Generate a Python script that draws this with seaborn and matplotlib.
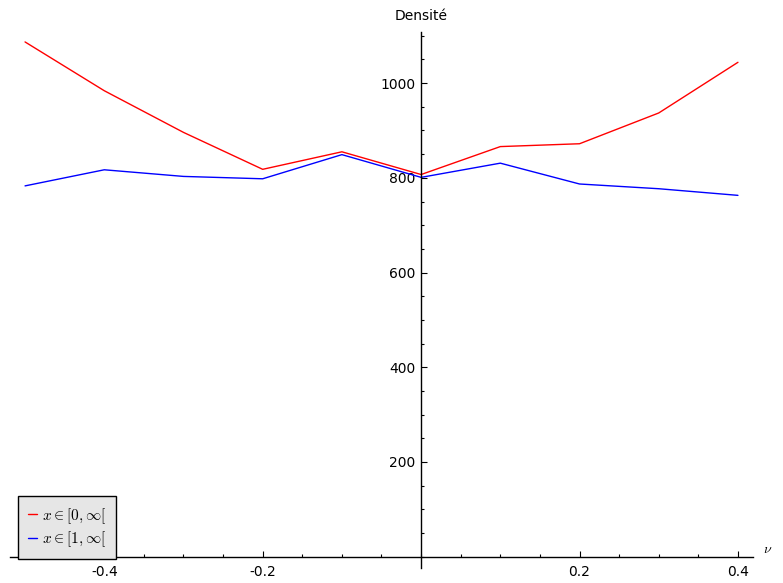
import pandas as pd
import matplotlib
matplotlib.use("Agg")
import matplotlib.pyplot as plt
import seaborn as sns
from matplotlib.ticker import MultipleLocator

# Values
nu = [-0.5, -0.4, -0.3, -0.2, -0.1, 0.0, 0.1, 0.2, 0.3, 0.4]
dens_0 = [1087, 984, 896, 818, 855, 807, 866, 872, 937, 1044]
dens_1 = [783, 817, 803, 798, 849, 801, 831, 787, 777, 763]
labels = [r"$x \in [0,\infty[$", r"$x \in [1,\infty[$"]
colors = ["red", "blue"]
xtick_vals = [-0.4, -0.2, 0.2, 0.4]
ytick_vals = [200, 400, 600, 800, 1000]

df = pd.DataFrame({
    "nu": nu * 2,
    "dens": dens_0 + dens_1,
    "serie": [labels[0]] * len(nu) + [labels[1]] * len(nu),
})

sns.set_style("ticks")
plt.rcParams["font.family"] = ["DejaVu Sans"]
plt.rcParams["mathtext.fontset"] = "cm"
plt.rcParams["text.color"] = "black"
plt.rcParams["xtick.color"] = "black"
plt.rcParams["ytick.color"] = "black"

fig = plt.figure(figsize=(7.83, 5.83), dpi=100)
ax = fig.add_axes([10 / 783, 15 / 583, 743 / 783, 536 / 583])

sns.lineplot(data=df, x="nu", y="dens", hue="serie", palette=colors,
             linewidth=1, ax=ax, legend=False)

ax.set_xlim(-0.519, 0.419)
ax.set_ylim(-24, 1108)

# axes crossing at zero, Sage-like
ax.spines["left"].set_position(("data", 0))
ax.spines["bottom"].set_position(("data", 0))
ax.spines["right"].set_visible(False)
ax.spines["top"].set_visible(False)
for s in ["left", "bottom"]:
    ax.spines[s].set_linewidth(1)
    ax.spines[s].set_color("black")

ax.set_xticks(xtick_vals)
ax.set_xticklabels([f"{v:g}" for v in xtick_vals])
ax.set_yticks(ytick_vals)
ax.xaxis.set_minor_locator(MultipleLocator(0.05))
ax.yaxis.set_minor_locator(MultipleLocator(50))
ax.tick_params(axis="x", which="both", direction="in", labelsize=10, pad=6,
               bottom=True, top=False)
ax.tick_params(axis="y", which="both", direction="in", labelsize=10, pad=4,
               left=True, right=False)
ax.tick_params(which="major", length=4, width=0.8)
ax.tick_params(which="minor", length=2, width=0.8)
ax.set_xlabel("")
ax.set_ylabel("")

ax.text(0, 1108 + 18, "Densité", ha="center", va="bottom", fontsize=10)
ax.text(0.431, 2, r"$\nu$", ha="left", va="bottom", fontsize=10)

ax.legend(ax.get_lines()[:2], labels, loc="lower left",
          bbox_to_anchor=(0.0108, 0.0168), borderaxespad=0, fontsize=11,
          fancybox=False, facecolor="#e6e6e6", edgecolor="black",
          framealpha=1, handlelength=0.6, handletextpad=0.3,
          labelspacing=0.25, borderpad=0.65)

fig.savefig("out.png", dpi=100)
